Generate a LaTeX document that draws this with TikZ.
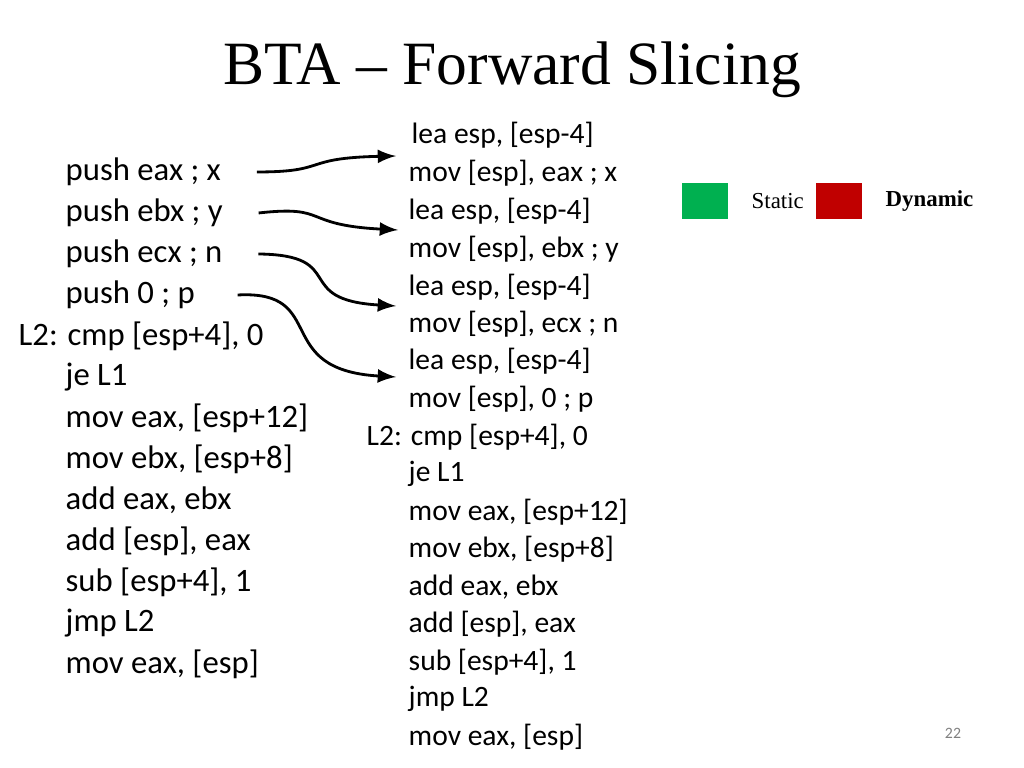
\documentclass[tikz,border=0pt]{standalone}
\usepackage{fontspec}
\setmainfont{Carlito}
\newfontfamily\serifface{Liberation Serif}
\usetikzlibrary{positioning}
\begin{document}
\begin{tikzpicture}[x=0.01cm,y=-0.01cm,
  lcode/.style={anchor=west,inner sep=0pt,font=\fontsize{9.3}{10}\selectfont},
  rcode/.style={anchor=west,inner sep=0pt,font=\fontsize{8.4}{9}\selectfont},
  slice/.style={-latex,thick}]
\useasboundingbox (0,0) rectangle (1024,768);
\node[font=\serifface\fontsize{17.5}{20}\selectfont] (title) at (512,70) {BTA – Forward Slicing};
% original code
\node[lcode] (a1) at (65,172) {push eax ; x};
\node[lcode] (a2) at (65,213) {push ebx ; y};
\node[lcode] (a3) at (65,254) {push ecx ; n};
\node[lcode] (a4) at (65,295) {push 0 ; p};
\node[lcode] (a5) at (18,336) {L2: cmp [esp+4], 0};
\node[lcode] (a6) at (65,377) {je L1};
\node[lcode] (a7) at (65,418) {mov eax, [esp+12]};
\node[lcode] (a8) at (65,459) {mov ebx, [esp+8]};
\node[lcode] (a9) at (65,500) {add eax, ebx};
\node[lcode] (a10) at (65,541) {add [esp], eax};
\node[lcode] (a11) at (65,582) {sub [esp+4], 1};
\node[lcode] (a12) at (65,623) {jmp L2};
\node[lcode] (a13) at (65,664) {mov eax, [esp]};
% rewritten code
\node[rcode] (b1) at (411,135) {lea esp, [esp-4]};
\node[rcode] (b2) at (408,173) {mov [esp], eax ; x};
\node[rcode] (b3) at (408,211) {lea esp, [esp-4]};
\node[rcode] (b4) at (408,249) {mov [esp], ebx ; y};
\node[rcode] (b5) at (408,287) {lea esp, [esp-4]};
\node[rcode] (b6) at (408,324) {mov [esp], ecx ; n};
\node[rcode] (b7) at (408,361) {lea esp, [esp-4]};
\node[rcode] (b8) at (408,399) {mov [esp], 0 ; p};
\node[rcode] (b9) at (366,437) {L2: cmp [esp+4], 0};
\node[rcode] (b10) at (408,474) {je L1};
\node[rcode] (b11) at (408,512) {mov eax, [esp+12]};
\node[rcode] (b12) at (408,549) {mov ebx, [esp+8]};
\node[rcode] (b13) at (408,587) {add eax, ebx};
\node[rcode] (b14) at (408,624) {add [esp], eax};
\node[rcode] (b15) at (408,662) {sub [esp+4], 1};
\node[rcode] (b16) at (408,699) {jmp L2};
\node[rcode] (b17) at (408,737) {mov eax, [esp]};
% arrows
\coordinate (t1) at (396,156);
\coordinate (t2) at (398,230);
\coordinate (t3) at (396,306);
\coordinate (t4) at (396,377);
\draw[slice] ([xshift=10]a1.east) .. controls (330,172) and (300,158) .. (t1);
\draw[slice] ([xshift=10]a2.east) .. controls (330,205) and (300,225) .. (t2);
\draw[slice] ([xshift=10]a3.east) .. controls (350,255) and (290,300) .. (t3);
\draw[slice] ([xshift=12]a4.east) .. controls (330,290) and (270,370) .. (t4);
% legend
\node[fill={rgb,255:red,0;green,176;blue,80},minimum width=0.46cm,minimum height=0.36cm,inner sep=0pt] (gbox) at (705,201) {};
\node[font=\serifface\fontsize{6.5}{8}\selectfont,right=3pt of gbox] (static) {Static};
\node[fill={rgb,255:red,192;green,0;blue,0},minimum width=0.46cm,minimum height=0.36cm,inner sep=0pt] (rbox) at (839,201) {};
\node[font=\serifface\bfseries\fontsize{6.5}{8}\selectfont,right=3pt of rbox] (dynamic) {Dynamic};
\node[font=\fontsize{4.5}{5}\selectfont,text=gray] (pnum) at (953,733) {22};
\end{tikzpicture}
\end{document}
